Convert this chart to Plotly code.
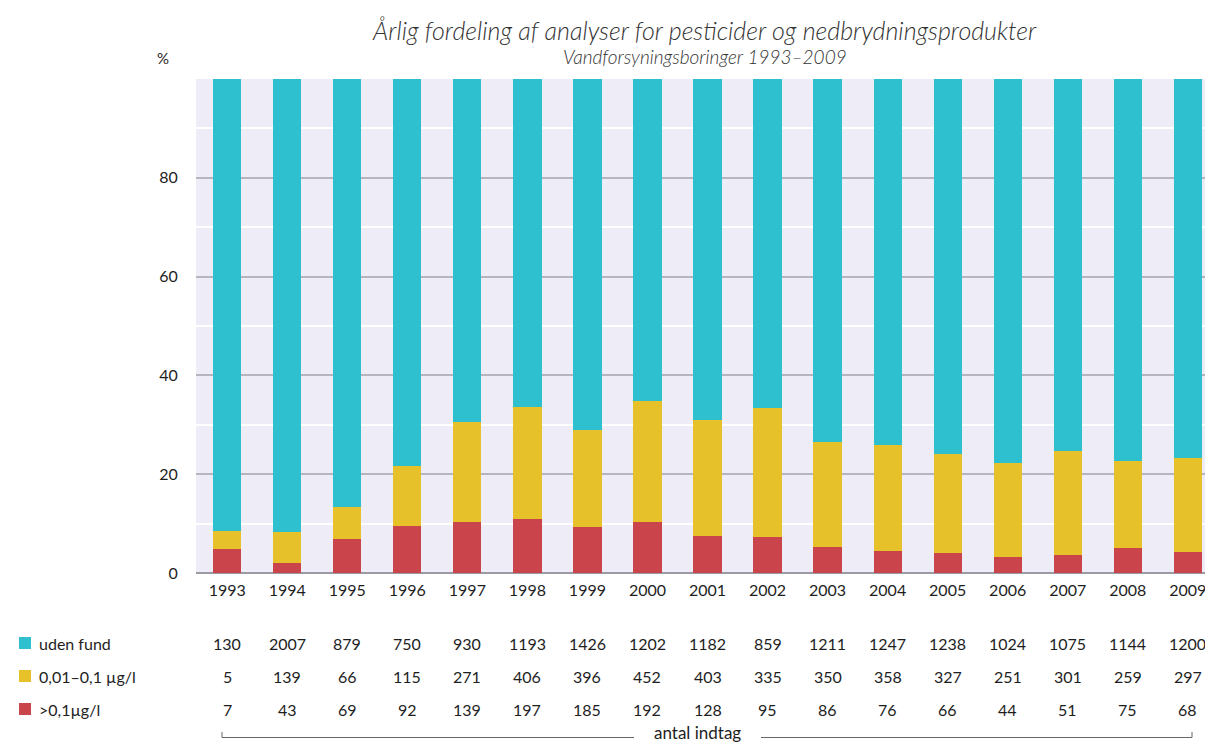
import plotly.graph_objects as go

years = [str(y) for y in range(1993, 2010)]
uden_fund = [130, 2007, 879, 750, 930, 1193, 1426, 1202, 1182, 859, 1211, 1247, 1238, 1024, 1075, 1144, 1200]
mellem = [5, 139, 66, 115, 271, 406, 396, 452, 403, 335, 350, 358, 327, 251, 301, 259, 297]
over = [7, 43, 69, 92, 139, 197, 185, 192, 128, 95, 86, 76, 66, 44, 51, 75, 68]

series_names = ["uden fund", "0,01–0,1 µg/l", ">0,1µg/l"]
colors = {"teal": "#2ec0ce", "yellow": "#e6c12a", "red": "#c9454b"}

totals = [a + b + c for a, b, c in zip(uden_fund, mellem, over)]
pct = lambda vals: [100.0 * v / t for v, t in zip(vals, totals)]

# page body has an 8px margin: lay out in window pixels, convert to figure pixels
OFF = 8
W, H = 1213 - OFF, 744 - OFF
PL, PR, PT, PB = 196, 1213, 79, 573  # plot area in window pixels
L, R, T, B = PL - OFF, 0, PT - OFF, H - (PB - OFF)
PW, PH = W - L - R, H - T - B

def px(xw):
    return (xw - OFF - L) / PW

def py(yw):
    return (H - B - (yw - OFF)) / PH

FONT = "Lato"
TXT = "#1e1e1e"

fig = go.Figure()
fig.add_trace(go.Bar(x=years, y=pct(over), name=series_names[2], marker_color=colors["red"], marker_line_width=0))
fig.add_trace(go.Bar(x=years, y=pct(mellem), name=series_names[1], marker_color=colors["yellow"], marker_line_width=0))
fig.add_trace(go.Bar(x=years, y=pct(uden_fund), name=series_names[0], marker_color=colors["teal"], marker_line_width=0))

fig.update_layout(
    width=W, height=H,
    margin=dict(l=L, r=R, t=T, b=B, pad=0),
    barmode="stack", bargap=0.53,
    showlegend=False,
    paper_bgcolor="white", plot_bgcolor="#eeecf7",
    font=dict(family=FONT, size=16, color=TXT),
)
fig.update_xaxes(
    type="category", range=[-0.52, 16.42], showgrid=False,
    ticks="outside", ticklen=3, tickcolor="rgba(0,0,0,0)",
    tickfont=dict(size=16, color=TXT),
)
fig.update_yaxes(
    range=[0, 100], tickmode="array",
    tickvals=[0, 20, 40, 60, 80, 100], ticktext=["0", "20", "40", "60", "80", ""],
    showgrid=True, gridcolor="#b5b5bd", gridwidth=1.5,
    zeroline=True, zerolinecolor="#9a9aa2", zerolinewidth=2,
    ticks="outside", ticklen=14, tickcolor="rgba(0,0,0,0)",
    tickfont=dict(size=16, color=TXT),
    minor=dict(tickmode="array", tickvals=[10, 30, 50, 70, 90], showgrid=True, gridcolor="white", gridwidth=1.5),
)

ann = []
ann.append(dict(text="Årlig fordeling af analyser for pesticider og nedbrydningsprodukter",
                xref="paper", yref="paper", x=0.5, y=py(30), xanchor="center", yanchor="middle",
                showarrow=False, font=dict(family=FONT, size=25, color="#333", style="italic", weight=300)))
ann.append(dict(text="Vandforsyningsboringer 1993–2009",
                xref="paper", yref="paper", x=0.5, y=py(57), xanchor="center", yanchor="middle",
                showarrow=False, font=dict(family=FONT, size=19, color="#333", style="italic", weight=300)))
ann.append(dict(text="%", xref="paper", yref="paper", x=px(163), y=py(58), xanchor="center", yanchor="middle",
                showarrow=False, font=dict(size=15, color=TXT)))

rows = [(uden_fund, series_names[0], colors["teal"], 643),
        (mellem, series_names[1], colors["yellow"], 676),
        (over, series_names[2], colors["red"], 709)]
shapes = []
for vals, name, col, yw in rows:
    for i, v in enumerate(vals):
        ann.append(dict(text=str(v), xref="x", yref="paper", x=i, y=py(yw), xanchor="center", yanchor="middle",
                        showarrow=False, font=dict(size=16, color=TXT)))
    ann.append(dict(text=name, xref="paper", yref="paper", x=px(37), y=py(yw), xanchor="left", yanchor="middle",
                    showarrow=False, font=dict(size=16, color=TXT)))
    shapes.append(dict(type="rect", xref="paper", yref="paper", x0=px(19), x1=px(31), y0=py(yw + 6), y1=py(yw - 6),
                       fillcolor=col, line_width=0))

lc = "#666"
yb = 737.5
shapes.append(dict(type="line", xref="paper", yref="paper", x0=px(222), x1=px(222), y0=py(732), y1=py(yb), line=dict(color=lc, width=1)))
shapes.append(dict(type="line", xref="paper", yref="paper", x0=px(1192), x1=px(1192), y0=py(732), y1=py(yb), line=dict(color=lc, width=1)))
shapes.append(dict(type="line", xref="paper", yref="paper", x0=px(222), x1=px(634), y0=py(yb), y1=py(yb), line=dict(color=lc, width=1)))
shapes.append(dict(type="line", xref="paper", yref="paper", x0=px(761), x1=px(1192), y0=py(yb), y1=py(yb), line=dict(color=lc, width=1)))
ann.append(dict(text="antal indtag", xref="paper", yref="paper", x=px(697), y=py(745), xanchor="center", yanchor="bottom",
                showarrow=False, font=dict(size=17, color=TXT)))

fig.update_layout(annotations=ann, shapes=shapes)
fig.write_html("out.html")
